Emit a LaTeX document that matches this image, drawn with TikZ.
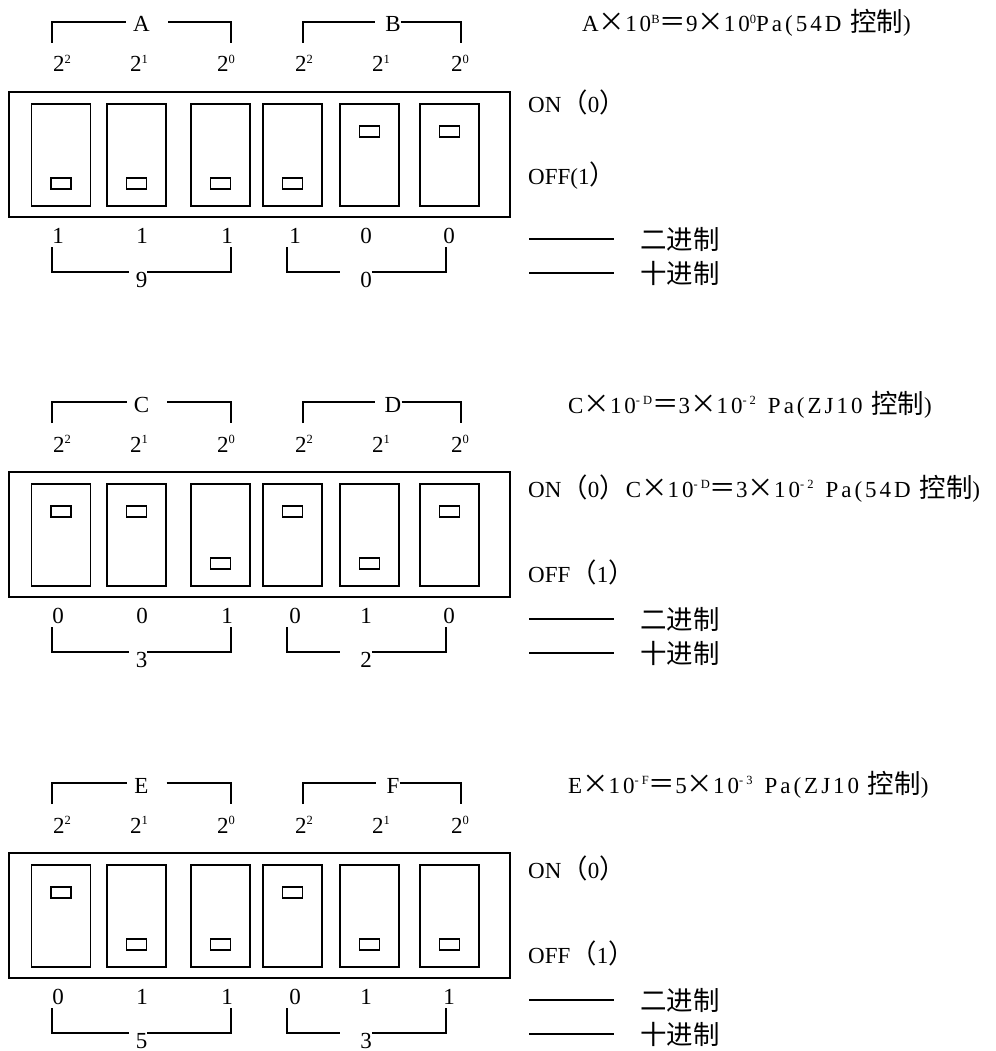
\documentclass[tikz,border=0pt]{standalone}
\usepackage{fontspec}
\setmainfont{Liberation Serif}
\newfontfamily\cjk{Noto Sans CJK SC}[Scale=1.15]
\newcommand\up[1]{\raisebox{0.85ex}{\fontsize{12.5}{12.5}\selectfont #1}}
\newcommand\fs{\fontsize{23}{27}\selectfont}
\newcommand\fsw{\fontsize{23}{27}\selectfont\addfontfeature{LetterSpace=13}}
\newcommand\plain{\addfontfeature{LetterSpace=0}}
\tikzset{
  frame/.style={draw, line width=1.8pt, inner sep=0pt},
  switch/.style={draw, line width=1.8pt, minimum width=59pt, minimum height=102pt, inner sep=0pt},
  knob/.style={draw, line width=1.6pt, minimum width=20pt, minimum height=11pt, inner sep=0pt},
  br/.style={line width=1.8pt},
  txt/.style={inner sep=0pt, font=\fs},
  wtxt/.style={inner sep=0pt, font=\fsw}
}
% #1 prefix, #2 y offset, #3 knob y list, #4 bits, #5 #6 top letters, #7 #8 decimal values
\newcommand\dippanel[8]{%
\begin{scope}[shift={(0,#2)}]
  \node[frame, minimum width=501pt, minimum height=125pt] (#1box) at (259.5,154.5) {};
  \foreach \cx [count=\i] in {61,136.5,220.5,292.5,369.5,449.5}
    \node[switch] (#1s\i) at (\cx,155) {};
  \foreach \ky [count=\i] in {#3}
    \node[knob] (#1k\i) at (#1s\i |- 0,\ky) {};
  \foreach \cx/\e [count=\i] in {62/2,139/1,226/0,304/2,381/1,460/0}
    \node[txt, anchor=base] (#1p\i) at (\cx,72) {2\up{\e}};
  \foreach \b [count=\i] in {#4}{
    \pgfmathsetmacro\bx{{58,142,227,295,366,449}[\i-1]}
    \node[txt, anchor=base] (#1n\i) at (\bx,243) {\b};}
  % top brackets
  \coordinate (#1ta1) at (52,43);  \coordinate (#1tc1) at (52,22);
  \coordinate (#1tc2) at (231,22); \coordinate (#1ta2) at (231,43);
  \coordinate (#1ta3) at (303,43); \coordinate (#1tc3) at (303,22);
  \coordinate (#1tc4) at (461,22); \coordinate (#1ta4) at (461,43);
  \node[txt, anchor=base] (#1tL) at (141.5,32) {#5};
  \node[txt, anchor=base] (#1tR) at (393,32) {#6};
  \draw[br, shorten >=7pt] (#1ta1) -- (#1tc1) -- (#1tL.west |- #1tc1);
  \draw[br, shorten <=18pt] (#1tL.east |- #1tc2) -- (#1tc2) -- (#1ta2);
  \draw[br, shorten >=10pt] (#1ta3) -- (#1tc3) -- (#1tR.west |- #1tc3);
  \draw[br] (#1tR.east |- #1tc4) -- (#1tc4) -- (#1ta4);
  % bottom brackets
  \coordinate (#1ba1) at (52,247);  \coordinate (#1bc1) at (52,272);
  \coordinate (#1bc2) at (231,272); \coordinate (#1ba2) at (231,247);
  \coordinate (#1ba3) at (287,247); \coordinate (#1bc3) at (287,272);
  \coordinate (#1bc4) at (446,272); \coordinate (#1ba4) at (446,247);
  \node[txt, anchor=base] (#1bL) at (141.5,287) {#7};
  \node[txt, anchor=base] (#1bR) at (366,287) {#8};
  \draw[br, shorten >=7pt] (#1ba1) -- (#1bc1) -- (#1bL.west |- #1bc1);
  \draw[br] (#1bL.east |- #1bc2) -- (#1bc2) -- (#1ba2);
  \draw[br, shorten >=20pt] (#1ba3) -- (#1bc3) -- (#1bR.west |- #1bc3);
  \draw[br] (#1bR.east |- #1bc4) -- (#1bc4) -- (#1ba4);
  % legend
  \coordinate (#1l1a) at (529,239); \coordinate (#1l1b) at (614,239);
  \coordinate (#1l2a) at (529,273); \coordinate (#1l2b) at (614,273);
  \draw[br] (#1l1a) -- (#1l1b);
  \draw[br] (#1l2a) -- (#1l2b);
  \node[txt, anchor=west] (#1bin) at (640,239) {\cjk 二进制};
  \node[txt, anchor=west] (#1dec) at (640,273) {\cjk 十进制};
\end{scope}}
\begin{document}
\begin{tikzpicture}[x=1pt, y=-1pt]
\path[use as bounding box] (0,0) rectangle (995,1051);

\dippanel{a}{0}{183.5,183.5,183.5,183.5,131.5,131.5}{1,1,1,1,0,0}{A}{B}{9}{0}
\dippanel{b}{380}{131.5,131.5,183.5,131.5,183.5,131.5}{0,0,1,0,1,0}{C}{D}{3}{2}
\dippanel{c}{761}{131.5,183.5,183.5,131.5,183.5,183.5}{0,1,1,0,1,1}{E}{F}{5}{3}

% panel 1 texts
\node[wtxt, anchor=base west] (f1) at (582,32) {A{\cjk ×}10\up{B}{\cjk ＝}9{\cjk ×}10\up{0}Pa(54D {\cjk 控制})};
\node[txt, anchor=base west] (on1) at (528,113) {ON{\cjk （}0{\cjk ）}};
\node[txt, anchor=base west] (off1) at (528,184) {OFF(1{\cjk ）}};

% panel 2 texts
\node[wtxt, anchor=base west] (f2) at (568,413) {C{\cjk ×}10\up{-\hspace{3pt}D}{\cjk ＝}3{\cjk ×}10\up{-\hspace{3pt}2}\hspace{12pt}Pa(ZJ10 {\cjk 控制})};
\node[wtxt, anchor=base west] (on2) at (528,497) {{\plain ON{\cjk （}0{\cjk ）}}C{\cjk ×}10\up{-\hspace{3pt}D}{\cjk ＝}3{\cjk ×}10\up{-\hspace{3pt}2}\hspace{12pt}Pa(54D {\cjk 控制})};
\node[txt, anchor=base west] (off2) at (528,582) {OFF{\cjk （}1{\cjk ）}};

% panel 3 texts
\node[wtxt, anchor=base west] (f3) at (568,793) {E{\cjk ×}10\up{-\hspace{3pt}F}{\cjk ＝}5{\cjk ×}10\up{-\hspace{3pt}3}\hspace{12pt}Pa(ZJ10 {\cjk 控制})};
\node[txt, anchor=base west] (on3) at (528,878) {ON{\cjk （}0{\cjk ）}};
\node[txt, anchor=base west] (off3) at (528,963) {OFF{\cjk （}1{\cjk ）}};
\end{tikzpicture}
\end{document}
